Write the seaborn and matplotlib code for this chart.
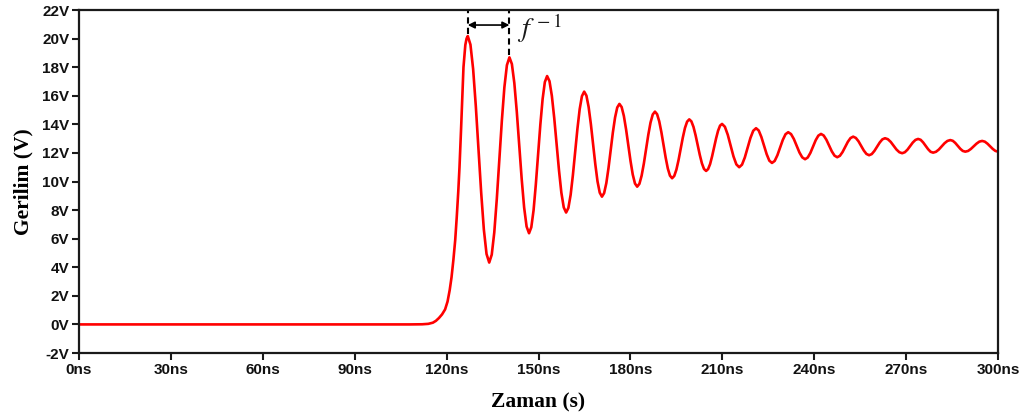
import matplotlib
matplotlib.use("Agg")
import matplotlib.pyplot as plt
import seaborn as sns
import pandas as pd

# Time (ns) and voltage (V)
time_ns = [
    0, 108, 112, 114, 115.5, 116.5, 117.5, 118.5, 119.5, 120.3, 121.0, 121.6, 122.2,
    122.8, 123.3, 123.8, 124.2, 124.7, 125.1, 125.5, 126.1, 126.5,
    126.9, 127.775, 128.65, 129.525, 130.4, 131.275, 132.15, 133.025,
    133.9, 134.725, 135.55, 136.375, 137.2, 138.025, 138.85, 139.675,
    140.5, 141.3, 142.1, 142.9, 143.7, 144.5, 145.3, 146.1,
    146.9, 147.64, 148.38, 149.11, 149.85, 150.59, 151.33, 152.06,
    152.8, 153.58, 154.35, 155.13, 155.9, 156.68, 157.45, 158.23,
    159.0, 159.74, 160.48, 161.21, 161.95, 162.69, 163.43, 164.16,
    164.9, 165.63, 166.35, 167.08, 167.8, 168.53, 169.25, 169.98,
    170.7, 171.41, 172.13, 172.84, 173.55, 174.26, 174.98, 175.69,
    176.4, 177.13, 177.85, 178.58, 179.3, 180.03, 180.75, 181.48,
    182.2, 182.93, 183.65, 184.38, 185.1, 185.83, 186.55, 187.28,
    188.0, 188.7, 189.4, 190.1, 190.8, 191.5, 192.2, 192.9,
    193.6, 194.3, 195.0, 195.7, 196.4, 197.1, 197.8, 198.5,
    199.2, 199.89, 200.58, 201.26, 201.95, 202.64, 203.33, 204.01,
    204.7, 205.35, 206.0, 206.65, 207.3, 207.95, 208.6, 209.25,
    209.9, 210.83, 211.77, 212.7, 213.63, 214.57,
    215.5, 216.42, 217.33, 218.25, 219.17, 220.08,
    221.0, 221.87, 222.73, 223.6, 224.47, 225.33,
    226.2, 227.08, 227.97, 228.85, 229.73, 230.62,
    231.5, 232.42, 233.33, 234.25, 235.17, 236.08,
    237.0, 237.87, 238.73, 239.6, 240.47, 241.33,
    242.2, 243.08, 243.97, 244.85, 245.73, 246.62,
    247.5, 248.37, 249.23, 250.1, 250.97, 251.83,
    252.7, 253.57, 254.43, 255.3, 256.17, 257.03,
    257.9, 258.77, 259.63, 260.5, 261.37, 262.23,
    263.1, 264.03, 264.97, 265.9, 266.83, 267.77,
    268.7, 269.57, 270.43, 271.3, 272.17, 273.03,
    273.9, 274.72, 275.53, 276.35, 277.17, 277.98,
    278.8, 279.73, 280.67, 281.6, 282.53, 283.47,
    284.4, 285.22, 286.03, 286.85, 287.67, 288.48,
    289.3, 290.22, 291.13, 292.05, 292.97, 293.88,
    294.8, 295.67, 296.53, 297.4, 298.27, 299.13,
    300.0,
]
voltage_v = [
    0, 0, 0.01, 0.04, 0.12, 0.25, 0.45, 0.7, 1.05, 1.6, 2.4, 3.3, 4.5,
    5.9, 7.5, 9.3, 11.0, 13.6, 15.9, 18.0, 19.55, 20.0,
    20.18, 19.58, 17.87, 15.28, 12.26, 9.23, 6.64, 4.93,
    4.33, 4.88, 6.43, 8.77, 11.51, 14.25, 16.59, 18.14,
    18.69, 18.22, 16.89, 14.89, 12.54, 10.18, 8.18, 6.85,
    6.38, 6.80, 7.99, 9.78, 11.88, 13.98, 15.77, 16.96,
    17.38, 17.02, 15.99, 14.43, 12.61, 10.78, 9.22, 8.19,
    7.83, 8.15, 9.07, 10.44, 12.06, 13.68, 15.06, 15.97,
    16.29, 16.01, 15.22, 14.02, 12.62, 11.21, 10.01, 9.22,
    8.94, 9.19, 9.89, 10.95, 12.19, 13.43, 14.48, 15.18,
    15.43, 15.21, 14.59, 13.64, 12.54, 11.43, 10.49, 9.86,
    9.64, 9.84, 10.41, 11.26, 12.27, 13.27, 14.12, 14.69,
    14.89, 14.71, 14.21, 13.45, 12.56, 11.67, 10.91, 10.41,
    10.23, 10.39, 10.83, 11.50, 12.29, 13.08, 13.75, 14.19,
    14.35, 14.21, 13.82, 13.24, 12.55, 11.86, 11.27, 10.88,
    10.74, 10.87, 11.22, 11.76, 12.39, 13.01, 13.55, 13.91,
    14.03, 13.83, 13.27, 12.52, 11.76, 11.20,
    11.0, 11.18, 11.68, 12.37, 13.05, 13.55,
    13.73, 13.57, 13.12, 12.52, 11.91, 11.46,
    11.3, 11.44, 11.84, 12.38, 12.91, 13.31,
    13.45, 13.32, 12.98, 12.51, 12.03, 11.69,
    11.56, 11.68, 12.00, 12.45, 12.89, 13.21,
    13.33, 13.22, 12.92, 12.52, 12.11, 11.81,
    11.7, 11.80, 12.06, 12.42, 12.78, 13.04,
    13.14, 13.05, 12.82, 12.49, 12.17, 11.93,
    11.84, 11.92, 12.14, 12.44, 12.73, 12.95,
    13.03, 12.96, 12.77, 12.51, 12.24, 12.05,
    11.98, 12.05, 12.23, 12.48, 12.73, 12.91,
    12.98, 12.92, 12.74, 12.50, 12.26, 12.08,
    12.02, 12.08, 12.24, 12.46, 12.68, 12.84,
    12.9, 12.85, 12.70, 12.50, 12.29, 12.14,
    12.09, 12.14, 12.28, 12.47, 12.65, 12.79,
    12.84, 12.79, 12.65, 12.47, 12.28, 12.14,
    12.09,
]

x_ticks = [0, 30, 60, 90, 120, 150, 180, 210, 240, 270, 300]
x_tick_labels = ["0ns", "30ns", "60ns", "90ns", "120ns", "150ns", "180ns",
                 "210ns", "240ns", "270ns", "300ns"]
y_ticks = [-2, 0, 2, 4, 6, 8, 10, 12, 14, 16, 18, 20, 22]
y_tick_labels = ["-2V", "0V", "2V", "4V", "6V", "8V", "10V", "12V", "14V",
                 "16V", "18V", "20V", "22V"]

# period annotation (two successive peaks)
period_peaks_t = [126.9, 140.5]
period_peaks_v = [20.3, 18.85]

sns.set_style("white")
plt.rcParams["font.family"] = ["Liberation Sans", "DejaVu Sans"]

df = pd.DataFrame({"t": time_ns, "v": voltage_v})

fig = plt.figure(figsize=(10.30, 4.18), dpi=100)
ax = fig.add_axes([0.0767, 0.1555, 0.8923, 0.8205])

sns.lineplot(data=df, x="t", y="v", ax=ax, color="#FF0000", linewidth=1.9,
             sort=False, estimator=None)

ax.set_xlim(0, 300)
ax.set_ylim(-2, 22)
ax.set_xticks(x_ticks)
ax.set_xticklabels(x_tick_labels, fontsize=11, fontweight="bold")
ax.set_yticks(y_ticks)
ax.set_yticklabels(y_tick_labels, fontsize=11, fontweight="bold")

for s in ax.spines.values():
    s.set_visible(True)
    s.set_color("#1a1a1a")
    s.set_linewidth(1.6)

ax.tick_params(axis="both", which="both", direction="out", length=5, width=1.5,
               color="#1a1a1a", bottom=True, left=True, top=False, right=False,
               pad=2, labelcolor="#111111")

ax.set_xlabel("Zaman (s)", family=["Liberation Serif"], fontweight="bold",
              fontsize=15.5, labelpad=11, color="black")
ax.set_ylabel("Gerilim (V)", family=["Liberation Serif"], fontweight="bold",
              fontsize=15.5, labelpad=6, color="black")

# period annotation
for tp, vp in zip(period_peaks_t, period_peaks_v):
    ax.plot([tp, tp], [vp, 22], color="black", linestyle=(0, (3, 2)),
            linewidth=1.5, clip_on=False)
ax.annotate("", xy=(period_peaks_t[0], 20.95), xytext=(period_peaks_t[1], 20.95),
            arrowprops=dict(arrowstyle="<|-|>", color="black", lw=1.2,
                            mutation_scale=10, shrinkA=0, shrinkB=0))
ax.text(142.9, 20.75, r"$f^{\,-1}$", fontsize=20, math_fontfamily="stix",
        ha="left", va="center", color="#1a1a1a")

fig.savefig("out.png", dpi=100)
